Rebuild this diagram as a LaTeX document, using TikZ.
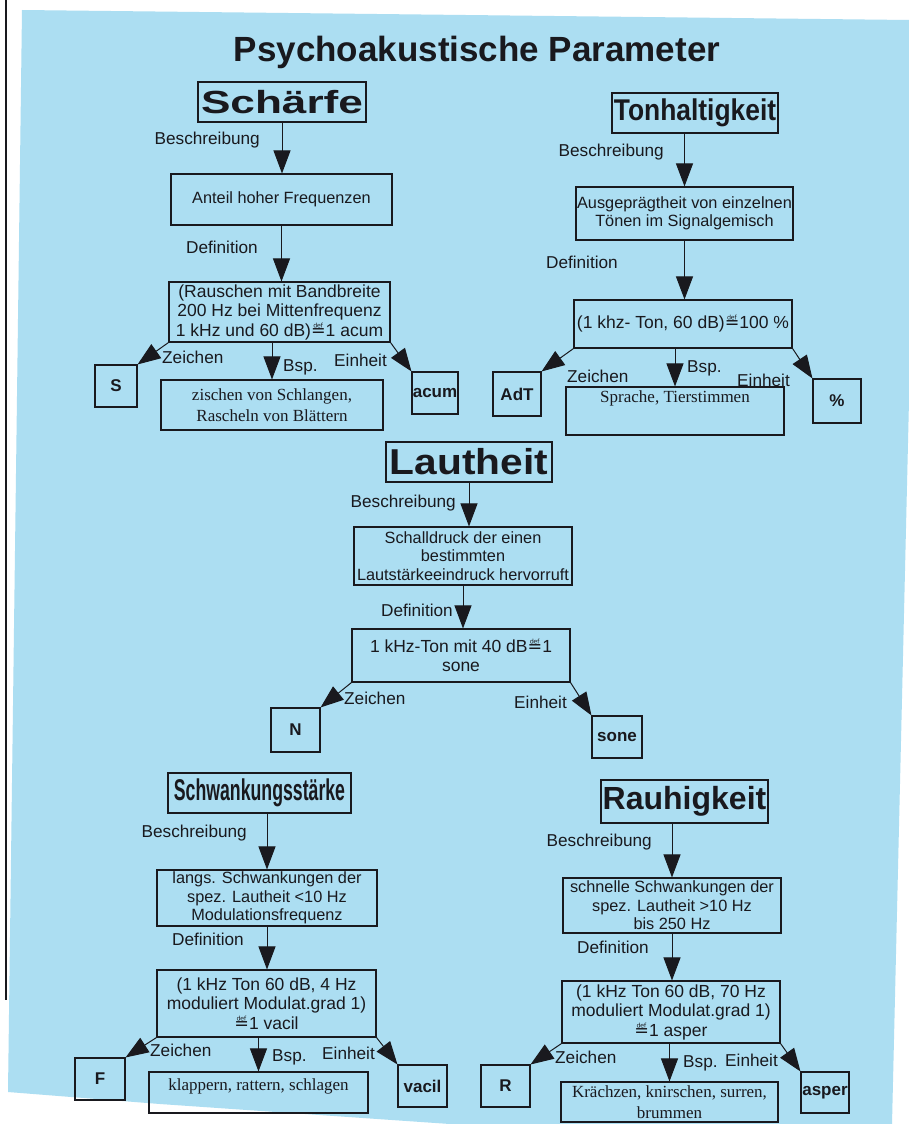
\documentclass[tikz,border=0pt]{standalone}
\usepackage{fontspec}
\setmainfont{Liberation Sans}
\newfontfamily\exfont{Liberation Serif}
\newfontfamily\symfont{DejaVu Sans}
\usepackage{graphicx}
\usepackage{tikz}
\usetikzlibrary{arrows.meta}
\definecolor{scanblue}{RGB}{172,222,242}
\definecolor{ink}{RGB}{25,25,30}
\newcommand{\defgleich}{{\symfont ≝}}

\begin{document}
\begin{tikzpicture}[x=1pt, y=-1pt,
    box/.style={draw=ink, line width=1.1pt, rectangle, inner sep=0pt, align=center, text=ink, font=\fontsize{16.3}{18.5}\selectfont},
    defbox/.style={box, font=\fontsize{17.5}{19.5}\selectfont},
    head/.style={draw=ink, line width=1.3pt, rectangle, inner sep=0pt, text=ink},
    symbox/.style={box, font=\fontsize{17}{19}\selectfont\bfseries},
    exbox/.style={box, font=\fontsize{17}{21}\exfont\selectfont},
    lbl/.style={inner sep=0pt, text=ink, font=\fontsize{17.2}{19}\selectfont},
    arr/.style={draw=ink, line width=1pt, -{Triangle[length=23pt, width=17pt]}}]
            \useasboundingbox (0, 0) rectangle (909, 1124);
            \fill [white] (0, 0) rectangle (909, 1124);
            \fill [scanblue] (22, 10) -- (909, 20) -- (909, 400) -- (892, 1124) -- (450, 1124) -- (160, 1104) -- (8, 1092) -- cycle;
            \draw [ink, line width=1.5pt] (6, 0) -- (6, 1000);
            \node [anchor=base, text=ink, font=\fontsize{35}{36}\selectfont\bfseries] (titel) at (477, 62) {Psychoakustische Parameter};

            % Schaerfe
            \node [head, minimum width=168pt, minimum height=40pt, font=\fontsize{32}{34}\selectfont\bfseries] (sTitel) at (282, 102) {\scalebox{1.38}[1]{Schärfe}};
            \node [box, minimum width=221pt, minimum height=51pt] (sBeschr) at (281.5, 199.5) {Anteil hoher Frequenzen};
            \node [defbox, minimum width=221pt, minimum height=60pt] (sDef) at (279.5, 312) {(Rauschen mit Bandbreite\\200 Hz bei Mittenfrequenz\\1 kHz und 60 dB)\defgleich1 acum};
            \node [symbox, minimum width=42pt, minimum height=42pt] (sZeichen) at (116, 386) {S};
            \node [exbox, minimum width=222pt, minimum height=50pt] (sBsp) at (272, 405) {zischen von Schlangen,\\Rascheln von Blättern};
            \node [symbox, minimum width=46pt, minimum height=42pt] (sEinheit) at (435, 393) {acum};
            \node [lbl, anchor=east] (sL1) at (260, 140) {Beschreibung};
            \node [lbl, anchor=east] (sL2) at (258, 247) {Definition};
            \node [lbl, anchor=west] (sL3) at (162, 357) {Zeichen};
            \node [lbl, anchor=west] (sL4) at (283, 367) {Bsp.};
            \node [lbl, anchor=east] (sL5) at (387, 360) {Einheit};
            \draw [arr] (sTitel.south) -- (sTitel.south |- sBeschr.north);
            \draw [arr] (sBeschr.south) -- (sBeschr.south |- sDef.north);
            \draw [arr] (sDef.south west) -- (sZeichen.north east);
            \draw [arr] (sBsp.north |- sDef.south) -- (sBsp.north);
            \draw [arr] (sDef.south east) -- (sEinheit.north west);

            % Tonhaltigkeit
            \node [head, minimum width=166pt, minimum height=40pt, font=\fontsize{30}{32}\selectfont\bfseries] (tTitel) at (695, 113) {\scalebox{0.88}[1]{Tonhaltigkeit}};
            \node [box, minimum width=217pt, minimum height=53pt] (tBeschr) at (684.5, 213.5) {Ausgeprägtheit von einzelnen\\Tönen im Signalgemisch};
            \node [defbox, minimum width=218pt, minimum height=48pt] (tDef) at (683, 324) {(1 khz- Ton, 60 dB)\defgleich100 \%};
            \node [symbox, minimum width=48pt, minimum height=44pt] (tZeichen) at (517, 394) {AdT};
            \node [exbox, minimum width=218pt, minimum height=48pt, text height=12pt, text depth=30pt] (tBsp) at (675, 411) {Sprache, Tierstimmen};
            \node [symbox, minimum width=48pt, minimum height=44pt] (tEinheit) at (837, 401) {\%};
            \node [lbl, anchor=east] (tL1) at (664, 152) {Beschreibung};
            \node [lbl, anchor=east] (tL2) at (618, 262) {Definition};
            \node [lbl, anchor=west] (tL3) at (567, 376) {Zeichen};
            \node [lbl, anchor=west] (tL4) at (687, 368) {Bsp.};
            \node [lbl, anchor=east] (tL5) at (790, 380) {Einheit};
            \draw [arr] (tTitel.south -| tBeschr.north) -- (tBeschr.north);
            \draw [arr] (tBeschr.south) -- (tBeschr.south |- tDef.north);
            \draw [arr] (tDef.south west) -- (tZeichen.north east);
            \draw [arr] (tBsp.north |- tDef.south) -- (tBsp.north);
            \draw [arr] (tDef.south east) -- (tEinheit.north west);

            % Lautheit
            \node [head, minimum width=166pt, minimum height=40pt, font=\fontsize{36}{38}\selectfont\bfseries] (lTitel) at (469, 462) {\scalebox{1.13}[1]{Lautheit}};
            \node [box, minimum width=218pt, minimum height=58pt] (lBeschr) at (463, 556) {Schalldruck der einen\\bestimmten\\Lautstärkeeindruck hervorruft};
            \node [defbox, minimum width=218pt, minimum height=53pt] (lDef) at (461, 655.5) {1 kHz-Ton mit 40 dB\defgleich1\\sone};
            \node [symbox, minimum width=49pt, minimum height=44pt] (lZeichen) at (295.5, 730) {N};
            \node [symbox, minimum width=50pt, minimum height=42pt] (lEinheit) at (617, 737) {sone};
            \node [lbl, anchor=east] (lL1) at (456, 503) {Beschreibung};
            \node [lbl, anchor=east] (lL2) at (453, 610) {Definition};
            \node [lbl, anchor=west] (lL3) at (344, 698) {Zeichen};
            \node [lbl, anchor=east] (lL5) at (567, 702) {Einheit};
            \draw [arr] (lTitel.south) -- (lTitel.south |- lBeschr.north);
            \draw [arr] (lBeschr.south) -- (lBeschr.south |- lDef.north);
            \draw [arr] (lDef.south west) -- (lZeichen.north east);
            \draw [arr] (lDef.south east) -- (lEinheit.north west);

            % Schwankungsstaerke
            \node [head, minimum width=183pt, minimum height=40pt, font=\fontsize{30}{32}\selectfont\bfseries] (wTitel) at (259.5, 793) {\scalebox{0.59}[1]{Schwankungsstärke}};
            \node [box, minimum width=220pt, minimum height=56pt] (wBeschr) at (267, 898) {langs. Schwankungen der\\spez. Lautheit <10 Hz\\Modulationsfrequenz};
            \node [defbox, minimum width=219pt, minimum height=67pt] (wDef) at (266.5, 1003.5) {(1 kHz Ton 60 dB, 4 Hz\\moduliert Modulat.grad 1)\\\defgleich1 vacil};
            \node [symbox, minimum width=50pt, minimum height=42pt] (wZeichen) at (100, 1079) {F};
            \node [exbox, minimum width=219pt, minimum height=41pt, text height=12pt, text depth=17pt] (wBsp) at (258.5, 1092.5) {klappern, rattern, schlagen};
            \node [symbox, minimum width=49pt, minimum height=42pt] (wEinheit) at (422.5, 1086) {vacil};
            \node [lbl, anchor=east] (wL1) at (247, 833) {Beschreibung};
            \node [lbl, anchor=east] (wL2) at (244, 939) {Definition};
            \node [lbl, anchor=west] (wL3) at (150, 1050) {Zeichen};
            \node [lbl, anchor=west] (wL4) at (272, 1057) {Bsp.};
            \node [lbl, anchor=east] (wL5) at (375, 1053) {Einheit};
            \draw [arr] (wBeschr.north |- wTitel.south) -- (wBeschr.north);
            \draw [arr] (wBeschr.south) -- (wBeschr.south |- wDef.north);
            \draw [arr] (wDef.south west) -- (wZeichen.north east);
            \draw [arr] (wBsp.north |- wDef.south) -- (wBsp.north);
            \draw [arr] (wDef.south east) -- (wEinheit.north west);

            % Rauhigkeit
            \node [head, minimum width=167pt, minimum height=43pt, font=\fontsize{32}{34}\selectfont\bfseries] (rTitel) at (684.5, 801.5) {Rauhigkeit};
            \node [box, minimum width=218pt, minimum height=55pt] (rBeschr) at (672, 905.5) {schnelle Schwankungen der\\spez. Lautheit >10 Hz\\bis 250 Hz};
            \node [defbox, minimum width=218pt, minimum height=62pt] (rDef) at (671, 1012) {(1 kHz Ton 60 dB, 70 Hz\\moduliert Modulat.grad 1)\\\defgleich1 asper};
            \node [symbox, minimum width=49pt, minimum height=42pt] (rZeichen) at (505.5, 1086) {R};
            \node [exbox, minimum width=217pt, minimum height=40pt] (rBsp) at (669.5, 1102) {Krächzen, knirschen, surren,\\brummen};
            \node [symbox, minimum width=48pt, minimum height=41pt] (rEinheit) at (825, 1092.5) {asper};
            \node [lbl, anchor=east] (rL1) at (652, 842) {Beschreibung};
            \node [lbl, anchor=east] (rL2) at (649, 947) {Definition};
            \node [lbl, anchor=west] (rL3) at (555, 1057) {Zeichen};
            \node [lbl, anchor=west] (rL4) at (683, 1063) {Bsp.};
            \node [lbl, anchor=east] (rL5) at (778, 1060) {Einheit};
            \draw [arr] (rBeschr.north |- rTitel.south) -- (rBeschr.north);
            \draw [arr] (rBeschr.south) -- (rBeschr.south |- rDef.north);
            \draw [arr] (rDef.south west) -- (rZeichen.north east);
            \draw [arr] (rBsp.north |- rDef.south) -- (rBsp.north);
            \draw [arr] (rDef.south east) -- (rEinheit.north west);
        \end{tikzpicture}
\end{document}
